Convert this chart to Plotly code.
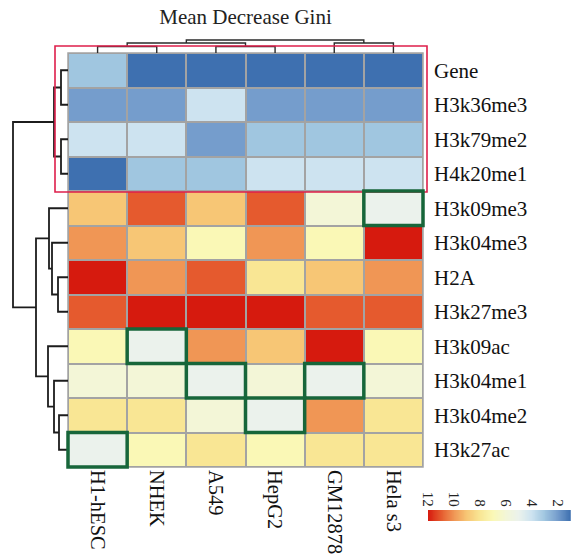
import numpy as np
import plotly.graph_objects as go

# ---------------- data ----------------
cell_lines = ["H1-hESC", "NHEK", "A549", "HepG2", "GM12878", "Hela s3"]
marks = ["Gene", "H3k36me3", "H3k79me2", "H4k20me1", "H3k09me3", "H3k04me3",
         "H2A", "H3k27me3", "H3k09ac", "H3k04me1", "H3k04me2", "H3k27ac"]

h1_hesc = [3, 2, 4, 1, 9, 10, 12, 11, 7, 6, 8, 5]
nhek    = [1, 2, 4, 3, 11, 9, 10, 12, 5, 6, 8, 7]
a549    = [1, 4, 2, 3, 9, 7, 11, 12, 10, 5, 6, 8]
hepg2   = [1, 2, 3, 4, 11, 10, 8, 12, 9, 6, 5, 7]
gm12878 = [1, 2, 3, 4, 6, 7, 9, 11, 12, 5, 10, 8]
hela_s3 = [1, 2, 3, 4, 5, 12, 10, 11, 7, 6, 8, 8]

highlight_value = 5
colorbar_ticks = [12, 10, 8, 6, 4, 2]

# dendrograms: (child a, child b, merge height); new nodes numbered after leaves
row_linkage = [(0, 1, 7), (2, 3, 7), (12, 13, 14), (6, 7, 10), (5, 15, 16),
               (4, 16, 19), (10, 11, 9), (9, 18, 14), (8, 19, 20), (17, 20, 32),
               (14, 21, 55)]
col_linkage = [(0, 1, 6.5), (2, 3, 6.5), (4, 5, 10), (6, 7, 10), (9, 8, 13)]

# ---------------- styling ----------------
W, H = 571, 559
FONT = "Liberation Serif, Times New Roman, Tinos, DejaVu Serif, serif"
level_colors = ["#3e70b0", "#759dcc", "#a0c6e0", "#cde3f0", "#ebf2ec", "#f3f6d7",
                "#faf8b6", "#f9e694", "#f7c675", "#f09655", "#e55a2e", "#d61a0e"]
colorscale = [[i / 11, c] for i, c in enumerate(level_colors)]

Z = np.column_stack([h1_hesc, nhek, a549, hepg2, gm12878, hela_s3])
nr, nc = Z.shape

def px_x(p):
    return p / W

def px_y(p):
    return 1 - p / H

HX0, HX1, HY0, HY1 = 68, 423, 53, 467
CW = (HX1 - HX0) / nc
RH = (HY1 - HY0) / nr

def col_left(c):
    return px_x(HX0 + c * CW)

def row_top(r):
    return px_y(HY0 + r * RH)

def dendro_paths(linkage, n):
    pos = {i: float(i) for i in range(n)}
    hgt = {i: 0.0 for i in range(n)}
    P, Hs = [], []
    for k, (a, b, h) in enumerate(linkage):
        node = n + k
        P += [pos[a], pos[a], pos[b], pos[b], None]
        Hs += [hgt[a], h, h, hgt[b], None]
        pos[node] = (pos[a] + pos[b]) / 2
        hgt[node] = h
    return P, Hs

fig = go.Figure()

# grid background
fig.add_shape(type="rect", xref="paper", yref="paper", x0=col_left(0), x1=col_left(nc),
              y0=row_top(nr), y1=row_top(0),
              fillcolor="#a3a3a3", line=dict(color="#a3a3a3", width=1.5), layer="below")

fig.add_trace(go.Heatmap(z=Z, x=list(range(nc)), y=list(range(nr)), colorscale=colorscale,
                         zmin=1, zmax=12, showscale=False, xgap=2, ygap=2,
                         xaxis="x", yaxis="y", hoverinfo="skip"))

# left dendrogram
rp, rh = dendro_paths(row_linkage, nr)
fig.add_trace(go.Scatter(x=rh, y=rp, mode="lines", line=dict(color="#1c1c1c", width=1.8),
                         xaxis="x2", yaxis="y2", hoverinfo="skip", showlegend=False))
# top dendrogram
cp, ch = dendro_paths(col_linkage, nc)
fig.add_trace(go.Scatter(x=cp, y=ch, mode="lines", line=dict(color="#2b2b2b", width=1.4),
                         xaxis="x3", yaxis="y3", hoverinfo="skip", showlegend=False))

# colour bar
cb_vals = np.linspace(1, 12, 300)
fig.add_trace(go.Heatmap(z=[cb_vals], x=cb_vals, y=[0], colorscale=colorscale, zmin=1, zmax=12,
                         showscale=False, xaxis="x4", yaxis="y4", hoverinfo="skip"))

# red cluster box (around first four rows)
fig.add_shape(type="rect", xref="paper", yref="paper", x0=px_x(55), x1=px_x(427),
              y0=px_y(192), y1=px_y(46), line=dict(color="#de1f4b", width=1.6))

# highlighted cells
for c in range(nc):
    for r in range(nr):
        if Z[r, c] == highlight_value:
            fig.add_shape(type="rect", xref="paper", yref="paper",
                          x0=col_left(c), x1=col_left(c + 1),
                          y0=row_top(r + 1), y1=row_top(r),
                          line=dict(color="#17663a", width=3.5))

dom_x = [px_x(HX0), px_x(HX1)]
dom_y = [px_y(HY1), px_y(HY0)]
hidden = dict(visible=False, showgrid=False, zeroline=False, automargin=False)

fig.update_layout(
    width=W, height=H, margin=dict(l=0, r=0, t=0, b=0, pad=0, autoexpand=False),
    paper_bgcolor="white", plot_bgcolor="white",
    showlegend=False,
    font=dict(family=FONT),
    title=dict(text="Mean Decrease Gini", x=245.5 / W, xanchor="center", y=px_y(17),
               yanchor="middle", automargin=False,
               font=dict(family=FONT, size=21, color="#222")),
    xaxis=dict(domain=dom_x, range=[-0.5, nc - 0.5], tickvals=list(range(nc)), ticktext=cell_lines,
               tickangle=90, showgrid=False, zeroline=False, showline=False, ticks="",
               ticklabelstandoff=2, automargin=False,
               tickfont=dict(family=FONT, size=20.5, color="#111"), anchor="y"),
    yaxis=dict(domain=dom_y, range=[nr - 0.5, -0.5], tickvals=list(range(nr)), ticktext=marks,
               side="right", showgrid=False, zeroline=False, showline=False, ticks="",
               ticklabelstandoff=10, automargin=False,
               tickfont=dict(family=FONT, size=21, color="#111"), anchor="x"),
    xaxis2=dict(domain=[0, px_x(HX0)], range=[68, 0], anchor="y2", **hidden),
    yaxis2=dict(domain=dom_y, range=[nr - 0.5, -0.5], anchor="x2", **hidden),
    xaxis3=dict(domain=dom_x, range=[-0.5, nc - 0.5], anchor="y3", **hidden),
    yaxis3=dict(domain=[px_y(HY0), px_y(30)], range=[0, 23], anchor="x3", **hidden),
    xaxis4=dict(domain=[px_x(428), 1], range=[12, 1], side="top", tickvals=colorbar_ticks,
                tickangle=90, showgrid=False, zeroline=False, showline=False, ticks="",
                automargin=False,
                tickfont=dict(family=FONT, size=15, color="#222"), anchor="y4"),
    yaxis4=dict(domain=[px_y(521), px_y(510)], range=[-0.5, 0.5], anchor="x4", **hidden),
)

fig.write_html("out.html")
